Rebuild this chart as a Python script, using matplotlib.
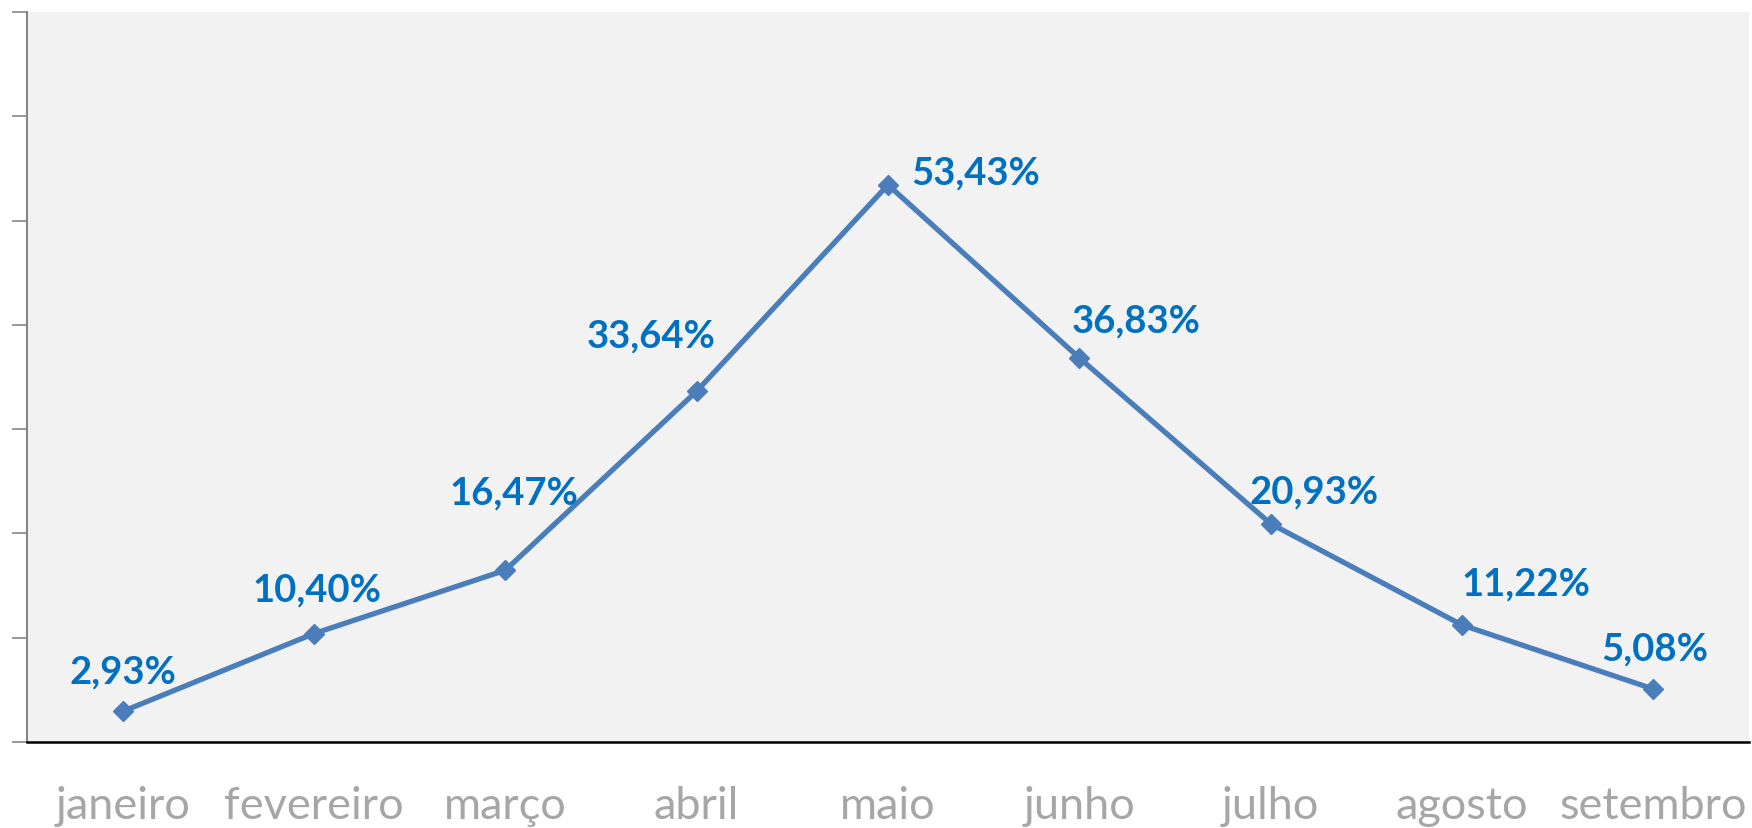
import matplotlib.pyplot as plt
import numpy as np

meses = ["janeiro", "fevereiro", "março", "abril", "maio",
         "junho", "julho", "agosto", "setembro"]
valores = [2.93, 10.40, 16.47, 33.64, 53.43, 36.83, 20.93, 11.22, 5.08]
rotulos = ["2,93%", "10,40%", "16,47%", "33,64%", "53,43%",
           "36,83%", "20,93%", "11,22%", "5,08%"]

# deslocamento dos rótulos (pontos)
desloc = [(0, 29), (2, 32), (6, 56), (-33, 40), (63, 9),
          (41, 27), (31, 23), (46, 30), (1, 29)]

fig = plt.figure(figsize=(17.52, 8.29), dpi=100)
ax = fig.add_axes([27 / 1752, 1 - 743 / 829, 1722 / 1752, 730 / 829])
ax.set_facecolor("#F2F2F2")

x = np.arange(len(meses))
ax.plot(x, valores, color="#4A7EBB", lw=3.8, marker="D", ms=10.5,
        markerfacecolor="#4A7EBB", markeredgecolor="#4A7EBB", zorder=3)

for xi, v, t, d in zip(x, valores, rotulos, desloc):
    ax.annotate(t, (xi, v), xytext=d, textcoords="offset points",
                ha="center", va="center", color="#0070C0",
                fontsize=27.5, fontweight="bold", family="Lato")

ax.set_xlim(-0.5, len(meses) - 0.5)
ax.set_ylim(0, 70)
ax.set_yticks(np.arange(0, 71, 10))
ax.set_yticklabels([])
ax.set_xticks(x)
ax.set_xticklabels(meses, family="Lato", fontsize=32.5, color="#A6A6A6")
ax.tick_params(axis="x", length=0, pad=31)
ax.tick_params(axis="y", length=11, width=1.2, color="#868686", direction="out")

ax.spines["top"].set_visible(False)
ax.spines["right"].set_visible(False)
ax.spines["left"].set_color("#868686")
ax.spines["left"].set_linewidth(1.5)
ax.spines["bottom"].set_color("black")
ax.spines["bottom"].set_linewidth(1.8)

fig.savefig("out.png", dpi=100)
